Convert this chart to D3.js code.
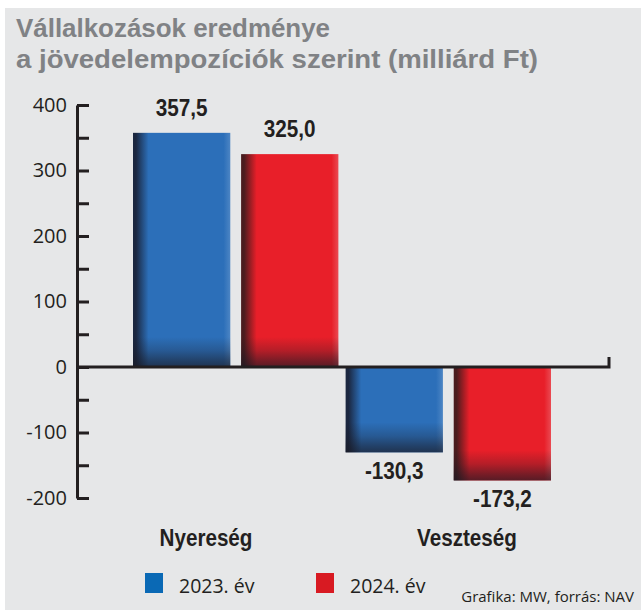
<!DOCTYPE html>
<html>
<head>
<meta charset="utf-8">
<script src="https://cdn.jsdelivr.net/npm/d3@7"></script>
<style>
  body { margin: 0; background: #fff; }
  .cond { font-family: "Liberation Sans", "DejaVu Sans", sans-serif; font-weight: bold; }
  .reg { font-family: "Open Sans", "Noto Sans", sans-serif; }
</style>
</head>
<body>
<div id="chart"></div>
<script>
const categories = ['Nyereség', 'Veszteség'];
const years = ['2023. év', '2024. év'];
const values2023 = [357.5, -130.3];
const values2024 = [325.0, -173.2];
const valueLabels2023 = ['357,5', '-130,3'];
const valueLabels2024 = ['325,0', '-173,2'];
const yTicks = [-200, -150, -100, -50, 0, 50, 100, 150, 200, 250, 300, 350, 400];
const titleLines = ['Vállalkozások eredménye', 'a jövedelempozíciók szerint (milliárd Ft)'];
const source = 'Grafika: MW, forrás: NAV';

const colors = {
  '2023. év': { base: '#2c6fb9', dark: '#1b2740', light: '#4c85c4', legend: '#0a69b5' },
  '2024. év': { base: '#e81f29', dark: '#4a1c1e', light: '#ea4a52', legend: '#d81a22' },
};

const W = 641, H = 611;
const svg = d3.select('#chart').append('svg')
  .attr('width', W)
  .attr('height', H);

svg.append('rect')
  .attr('x', 5).attr('y', 8)
  .attr('width', W - 5).attr('height', H - 9)
  .attr('fill', '#e6e7e8');

// squeeze bold text to look like a condensed face
function condense(sel, factor) {
  sel.each(function () {
    const w = this.getComputedTextLength();
    d3.select(this).attr('textLength', w * factor).attr('lengthAdjust', 'spacingAndGlyphs');
  });
}

// gradients
const defs = svg.append('defs');
years.forEach((yr, i) => {
  const c = colors[yr];
  const h = defs.append('linearGradient')
    .attr('id', `hg${i}`)
    .attr('x1', 0).attr('x2', 1).attr('y1', 0).attr('y2', 0);
  [[0, c.dark], [0.03, c.dark], [0.16, c.base], [0.93, c.base], [1, c.light]].forEach(([o, col]) => {
    h.append('stop').attr('offset', o).attr('stop-color', col);
  });
});
const vg = defs.append('linearGradient')
  .attr('id', 'vshade')
  .attr('x1', 0).attr('x2', 0).attr('y1', 0).attr('y2', 1);
[[0, 0], [0.45, 0.25], [0.8, 0.55], [1, 0.7]].forEach(([o, a]) => {
  vg.append('stop').attr('offset', o).attr('stop-color', '#1a1a24').attr('stop-opacity', a);
});

// title
const titleWidths = [314, 522];
svg.append('g').selectAll('text')
  .data(titleLines)
  .join('text')
  .attr('class', 'cond')
  .attr('x', 16)
  .attr('y', (d, i) => 36.5 + i * 31.5)
  .attr('font-size', 26)
  .attr('fill', '#808285')
  .attr('textLength', (d, i) => titleWidths[i])
  .attr('lengthAdjust', 'spacingAndGlyphs')
  .text(d => d);

const y = d3.scaleLinear().domain([-200, 400]).range([498, 105]);
const x0 = d3.scaleBand().domain(categories).range([133, 551]).paddingInner(0.034);
const x1 = d3.scaleBand().domain(years).range([0, x0.bandwidth()]).paddingInner(0.1);

const axisX = 77;
const shadeH = 30;

// bars
const data = categories.map((cat, i) => ({
  cat,
  bars: [
    { year: years[0], value: values2023[i], label: valueLabels2023[i], idx: 0 },
    { year: years[1], value: values2024[i], label: valueLabels2024[i], idx: 1 },
  ],
}));

const groups = svg.append('g').selectAll('g')
  .data(data)
  .join('g')
  .attr('transform', d => `translate(${x0(d.cat)},0)`);

const bars = groups.selectAll('g')
  .data(d => d.bars)
  .join('g');

bars.append('rect')
  .attr('x', d => x1(d.year))
  .attr('y', d => y(Math.max(0, d.value)))
  .attr('width', x1.bandwidth())
  .attr('height', d => Math.abs(y(d.value) - y(0)))
  .attr('fill', d => `url(#hg${d.idx})`);

bars.append('rect')
  .attr('x', d => x1(d.year))
  .attr('y', d => y(Math.min(0, d.value)) - shadeH)
  .attr('width', x1.bandwidth())
  .attr('height', shadeH)
  .attr('fill', 'url(#vshade)');

bars.append('text')
  .attr('class', 'cond')
  .attr('x', d => x1(d.year) + x1.bandwidth() / 2)
  .attr('y', d => d.value >= 0 ? y(d.value) - 17 : y(d.value) + 27)
  .attr('text-anchor', 'middle')
  .attr('font-size', 23)
  .attr('fill', '#231f20')
  .text(d => d.label)
  .call(condense, 0.9);

// y axis
const yAxis = d3.axisLeft(y)
  .tickValues(yTicks)
  .tickSizeInner(-12)
  .tickSizeOuter(0)
  .tickPadding(10)
  .tickFormat(d => d % 100 === 0 ? String(d) : '');

const ag = svg.append('g')
  .attr('transform', `translate(${axisX},0)`)
  .call(yAxis);
ag.select('.domain').attr('stroke', '#231f20').attr('stroke-width', 3);
ag.selectAll('.tick line').attr('stroke', '#231f20').attr('stroke-width', 3);
ag.selectAll('.tick text')
  .attr('class', 'reg')
  .attr('font-size', 20)
  .attr('fill', '#231f20');

// zero line
svg.append('path')
  .attr('d', `M${axisX},${y(0)}H609V${y(0) - 10}`)
  .attr('fill', 'none')
  .attr('stroke', '#231f20')
  .attr('stroke-width', 3);

// category labels
const labelX = d3.scalePoint().domain(categories).range([206, 467]);
svg.append('g').selectAll('text')
  .data(categories)
  .join('text')
  .attr('class', 'cond')
  .attr('x', d => labelX(d))
  .attr('y', 546)
  .attr('text-anchor', 'middle')
  .attr('font-size', 24)
  .attr('fill', '#231f20')
  .text(d => d)
  .call(condense, 0.86);

// legend
const legendX = d3.scalePoint().domain(years).range([145, 316]);
const lg = svg.append('g').selectAll('g')
  .data(years)
  .join('g')
  .attr('transform', d => `translate(${legendX(d)},573)`);
lg.append('rect')
  .attr('width', 18)
  .attr('height', 20)
  .attr('fill', d => colors[d].legend);
lg.append('text')
  .attr('class', 'reg')
  .attr('x', 34)
  .attr('y', 20)
  .attr('font-size', 19.5)
  .attr('fill', '#231f20')
  .text(d => d);

svg.append('text')
  .attr('class', 'reg')
  .attr('x', 634)
  .attr('y', 602)
  .attr('text-anchor', 'end')
  .attr('font-size', 15)
  .attr('fill', '#231f20')
  .text(source);
</script>
</body>
</html>
